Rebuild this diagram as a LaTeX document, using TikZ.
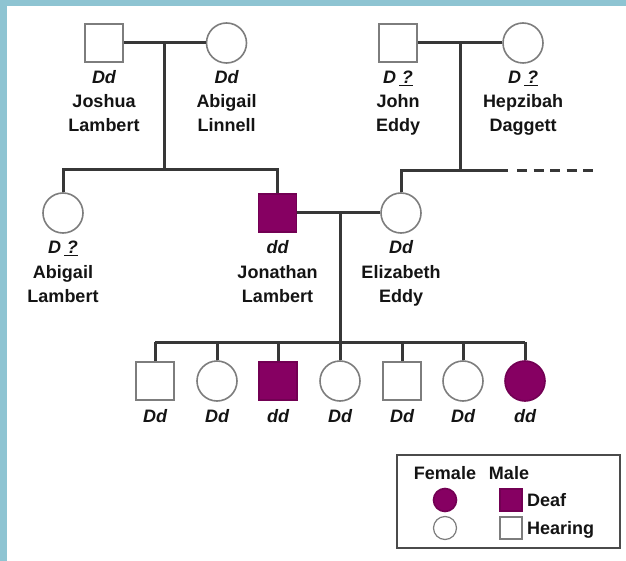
\documentclass[tikz,border=0pt]{standalone}
\usepackage{fontspec}
\setmainfont{Liberation Sans}
\definecolor{deaf}{RGB}{134,0,98}
\definecolor{frame}{RGB}{142,196,210}
\definecolor{linegray}{RGB}{55,55,55}
\definecolor{edgegray}{RGB}{125,125,125}
\definecolor{ink}{RGB}{20,20,20}
% genotype, first name and surname set below a pedigree symbol
\newcommand\pedlabel[4]{%
  \node[geno] (#1-gt) at ([yshift=-41pt]#1.center) {#2};
  \node[who]  (#1-n1) at ([yshift=-65pt]#1.center) {#3};
  \node[who]  (#1-n2) at ([yshift=-89pt]#1.center) {#4};
}
\newcommand\unk{D\,\underline{\,?}}
\begin{document}
\begin{tikzpicture}[x=1pt,y=-1pt,
  male/.style={rectangle, draw=edgegray, line width=1.6pt, minimum size=38pt, inner sep=0pt, fill=white},
  female/.style={circle, draw=edgegray, line width=1.6pt, minimum size=40pt, inner sep=0pt, fill=white},
  affected/.style={fill=deaf, draw=deaf!85!black},
  link/.style={draw=linegray, line width=3pt},
  geno/.style={anchor=base, inner sep=0pt, text=ink, font=\fontsize{18}{20}\selectfont\bfseries\itshape},
  who/.style={anchor=base, inner sep=0pt, text=ink, font=\fontsize{18}{20}\selectfont\bfseries},
]
% page with tinted frame on the left and top
\fill[frame] (0,0) rectangle (626,561);
\fill[white] (7,6) rectangle (626,561);
\useasboundingbox (0,0) rectangle (626,561);

% generation I
\node[male]   (joshua)   at (104,43) {};
\node[female] (abigailL) at (226.5,43) {};
\node[male]   (john)     at (398,43) {};
\node[female] (hepzibah) at (523,43) {};

% generation II
\node[female]          (abigailB)  at (63,213) {};
\node[male, affected]  (jonathan)  at (277.5,213) {};
\node[female]          (elizabeth) at (401,213) {};

% generation III
\node[male]             (c1) at (155,381) {};
\node[female]           (c2) at (217,381) {};
\node[male, affected]   (c3) at (278,381) {};
\node[female]           (c4) at (340,381) {};
\node[male]             (c5) at (402,381) {};
\node[female]           (c6) at (463,381) {};
\node[female, affected] (c7) at (525,381) {};

% junction points of the family lines
\coordinate (m1) at (164,43);
\coordinate (s1) at (164,170);
\coordinate (m2) at (460,43);
\coordinate (s2) at (460,171);
\coordinate (dashA) at (508,171);
\coordinate (dashB) at (517,171);
\coordinate (dashC) at (593,171);
\coordinate (m3) at (340,213);
\coordinate (s3) at (340,342);

% Lambert family
\draw[link] (joshua.east) -- (abigailL.west);
\draw[link] (m1) -- (s1);
\draw[link] (abigailB.north) |- (s1) -| (jonathan.north);

% Eddy family
\draw[link] (john.east) -- (hepzibah.west);
\draw[link] (m2) -- (s2);
\draw[link] (elizabeth.north) |- (s2) -- (dashA);
\draw[link, dash pattern=on 10pt off 6.5pt] (dashB) -- (dashC);

% Jonathan and Elizabeth with their children
\draw[link] (jonathan.east) -- (elizabeth.west);
\draw[link] (m3) -- (s3);
\draw[link] (c1.north |- s3) -- (c7.north |- s3);
\foreach \k in {1,...,7} {\draw[link] (c\k.north) -- (c\k.north |- s3);}

% labels
\pedlabel{joshua}{Dd}{Joshua}{Lambert}
\pedlabel{abigailL}{Dd}{Abigail}{Linnell}
\pedlabel{john}{\unk}{John}{Eddy}
\pedlabel{hepzibah}{\unk}{Hepzibah}{Daggett}
\pedlabel{abigailB}{\unk}{Abigail}{Lambert}
\pedlabel{jonathan}{dd}{Jonathan}{Lambert}
\pedlabel{elizabeth}{Dd}{Elizabeth}{Eddy}
\node[geno] (c1-gt) at ([yshift=-41pt]c1.center) {Dd};
\node[geno] (c2-gt) at ([yshift=-41pt]c2.center) {Dd};
\node[geno] (c3-gt) at ([yshift=-41pt]c3.center) {dd};
\node[geno] (c4-gt) at ([yshift=-41pt]c4.center) {Dd};
\node[geno] (c5-gt) at ([yshift=-41pt]c5.center) {Dd};
\node[geno] (c6-gt) at ([yshift=-41pt]c6.center) {Dd};
\node[geno] (c7-gt) at ([yshift=-41pt]c7.center) {dd};

% key
\node[draw=linegray!90, line width=1.4pt, minimum width=223pt, minimum height=93pt, inner sep=0pt] (key) at (508.5,501.5) {};
\node[who] (key-f) at (445,479) {Female};
\node[who] (key-m) at (509,479) {Male};
\node[female, affected, minimum size=23pt] (key-fd) at (445,500) {};
\node[male, affected, minimum size=22pt]   (key-md) at (511,500) {};
\node[female, line width=1.2pt, minimum size=23pt] (key-fh) at (445,528) {};
\node[male, line width=1.2pt, minimum size=22pt]   (key-mh) at (511,528) {};
\node[who, anchor=base west] (key-d) at (527,506) {Deaf};
\node[who, anchor=base west] (key-h) at (527,534) {Hearing};
\end{tikzpicture}
\end{document}
